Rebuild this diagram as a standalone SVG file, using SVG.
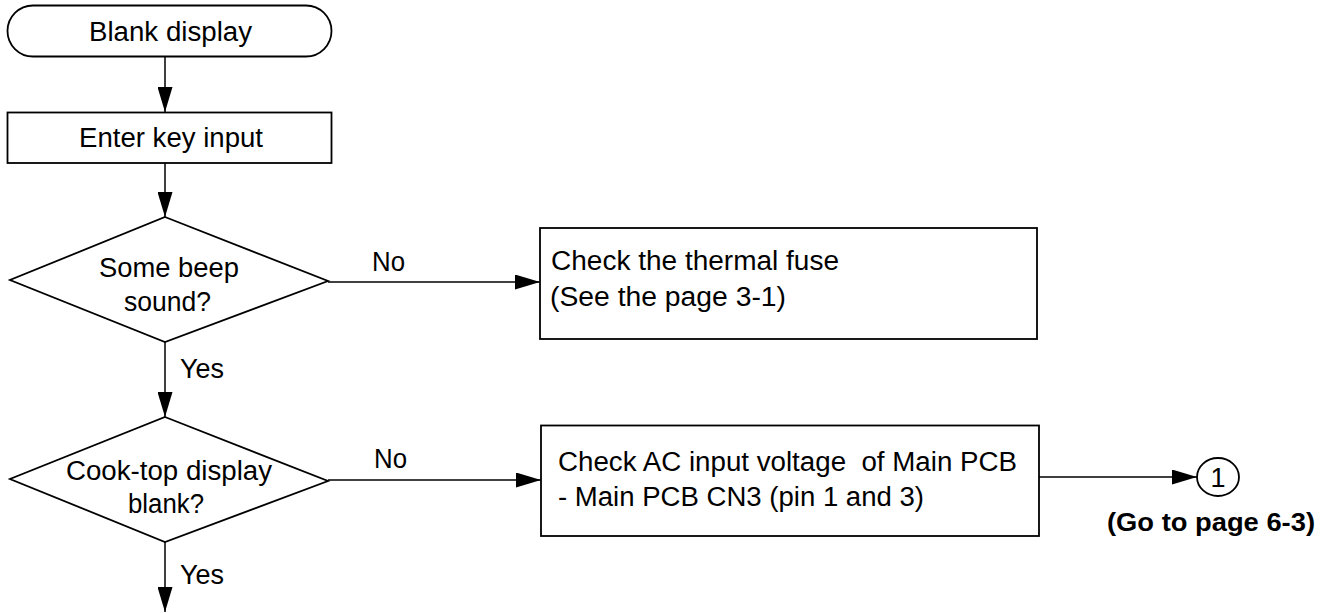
<svg xmlns="http://www.w3.org/2000/svg" width="1334" height="613" viewBox="0 0 1334 613">
<defs>
<style>
.shape{fill:#fff;stroke:#000;stroke-width:1.8}
.conn{fill:none;stroke:#000;stroke-width:1.5}
.t{font-family:"Liberation Sans",Arial,Helvetica,sans-serif;font-size:27px;fill:#000}
.b{font-weight:bold;font-size:25px}
</style>
<marker id="ah" viewBox="0 0 25 15" refX="25" refY="7.5" markerWidth="25" markerHeight="15" markerUnits="userSpaceOnUse" orient="auto">
<path d="M0,0 L25,7.5 L0,15 Z" fill="#000"/>
</marker>
</defs>
<rect width="1334" height="613" fill="#fff"/>
<g id="connectors">
<line class="conn" x1="165" y1="57" x2="165" y2="112" marker-end="url(#ah)"/>
<line class="conn" x1="165" y1="163" x2="165" y2="217" marker-end="url(#ah)"/>
<line class="conn" x1="328" y1="282" x2="540" y2="282" marker-end="url(#ah)"/>
<line class="conn" x1="165" y1="342" x2="165" y2="417" marker-end="url(#ah)"/>
<line class="conn" x1="328" y1="480" x2="541" y2="480" marker-end="url(#ah)"/>
<line class="conn" x1="1039" y1="477" x2="1197" y2="477" marker-end="url(#ah)"/>
<line class="conn" x1="165" y1="542" x2="165" y2="612" marker-end="url(#ah)"/>
<text class="t" x="180" y="378" textLength="44" lengthAdjust="spacingAndGlyphs">Yes</text>
<text class="t" x="372" y="271" textLength="33" lengthAdjust="spacingAndGlyphs">No</text>
<text class="t" x="374" y="468" textLength="33" lengthAdjust="spacingAndGlyphs">No</text>
<text class="t" x="180" y="584" textLength="44" lengthAdjust="spacingAndGlyphs">Yes</text>
</g>
<g id="start">
<rect class="shape" x="7.5" y="5.5" width="324" height="51" rx="25.5" ry="25.5"/>
<text class="t" x="89" y="41" textLength="163" lengthAdjust="spacingAndGlyphs">Blank display</text>
</g>
<g id="enter">
<rect class="shape" x="7.5" y="112.5" width="324" height="50.5"/>
<text class="t" x="79" y="146.5" textLength="184" lengthAdjust="spacingAndGlyphs">Enter key input</text>
</g>
<g id="beep">
<polygon class="shape" points="165,217 328,281 165,342 10,280"/>
<text class="t" x="99" y="276.5" textLength="140" lengthAdjust="spacingAndGlyphs">Some beep</text>
<text class="t" x="124" y="311" textLength="87" lengthAdjust="spacingAndGlyphs">sound?</text>
</g>
<g id="fuse">
<rect class="shape" x="540" y="228" width="497" height="111"/>
<text class="t" x="551" y="270" textLength="288" lengthAdjust="spacingAndGlyphs">Check the thermal fuse</text>
<text class="t" x="550" y="306" textLength="236" lengthAdjust="spacingAndGlyphs">(See the page 3-1)</text>
</g>
<g id="cooktop">
<polygon class="shape" points="165,417 328,481 165,542 10,479"/>
<text class="t" x="66" y="480" textLength="206" lengthAdjust="spacingAndGlyphs">Cook-top display</text>
<text class="t" x="128" y="513" textLength="76" lengthAdjust="spacingAndGlyphs">blank?</text>
</g>
<g id="acinput">
<rect class="shape" x="541" y="425.5" width="498" height="110.5"/>
<text class="t" x="558" y="471" textLength="459" lengthAdjust="spacingAndGlyphs" xml:space="preserve">Check AC input voltage  of Main PCB</text>
<text class="t" x="558" y="506" textLength="366" lengthAdjust="spacingAndGlyphs">- Main PCB CN3 (pin 1 and 3)</text>
</g>
<g id="goto">
<ellipse class="shape" cx="1218" cy="477" rx="21" ry="19" stroke-width="1.3"/>
<text class="t" x="1218" y="487" text-anchor="middle">1</text>
<text class="t b" x="1107" y="531" textLength="208" lengthAdjust="spacingAndGlyphs">(Go to page 6-3)</text>
</g>
</svg>
